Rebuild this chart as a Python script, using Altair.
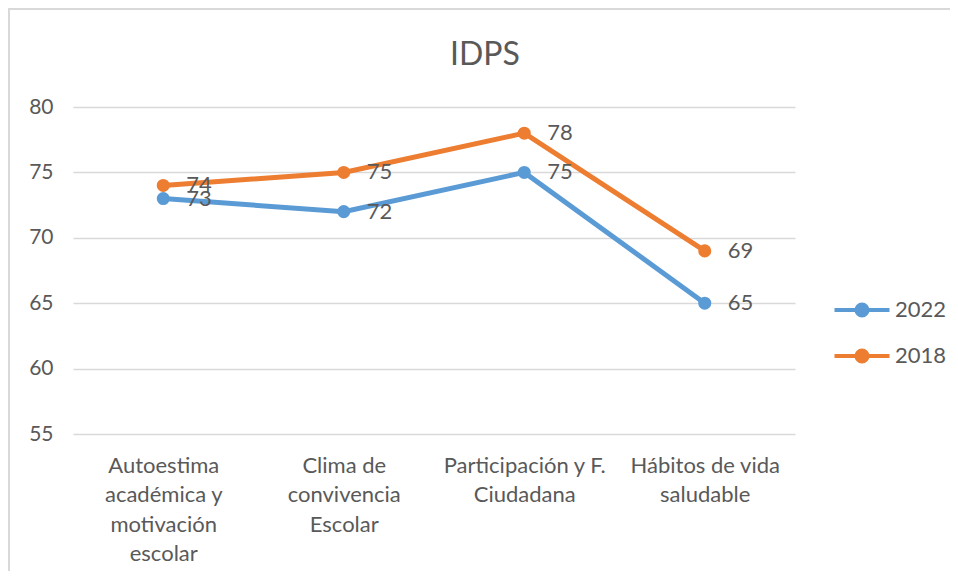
import altair as alt
import pandas as pd

categories = [
    "Autoestima\nacadémica y\nmotivación\nescolar",
    "Clima de\nconvivencia\nEscolar",
    "Participación y F.\nCiudadana",
    "Hábitos de vida\nsaludable",
]
series_names = ["2022", "2018"]
values_2022 = [73, 72, 75, 65]
values_2018 = [74, 75, 78, 69]
y_ticks = [55, 60, 65, 70, 75, 80]
colors = ["#5B9BD5", "#ED7D31"]
title_text = "IDPS"

rows = []
for name, vals in zip(series_names, [values_2022, values_2018]):
    for c, v in zip(categories, vals):
        rows.append({"cat": c, "val": v, "serie": name})
df = pd.DataFrame(rows)

FONT = "Lato"
GREY = "#595959"

legend_path = "M-2,0H2M0.4,0A0.4,0.4,0,1,1,-0.4,0A0.4,0.4,0,1,1,0.4,0Z"

x_enc = alt.X("cat:N", sort=categories, title=None,
              scale=alt.Scale(type="point", padding=0.5),
              axis=alt.Axis(labelExpr="split(datum.label, '\\n')", labelAngle=0,
                            labelFontSize=22, labelColor=GREY, labelFont=FONT,
                            labelLineHeight=29.5, labelPadding=21, ticks=False,
                            domain=False, grid=False, labelBaseline="top"))
y_enc = alt.Y("val:Q", title=None,
              scale=alt.Scale(domain=[55, 80], nice=False, zero=False),
              axis=alt.Axis(values=y_ticks, labelFontSize=21, labelColor=GREY,
                            labelFont=FONT, labelPadding=20, ticks=False,
                            domain=False, gridColor="#D9D9D9", gridWidth=1.5))
color_enc = alt.Color("serie:N", sort=series_names,
                      scale=alt.Scale(domain=series_names, range=colors),
                      legend=alt.Legend(title=None, orient="none", legendX=773,
                                        legendY=187, symbolType=legend_path,
                                        symbolSize=756, symbolStrokeWidth=4,
                                        labelFontSize=22, labelColor=GREY,
                                        labelFont=FONT, labelOffset=17,
                                        rowPadding=16))

border = alt.Chart(df).mark_rect(fill=None, stroke="#D9D9D9", strokeWidth=2).encode(
    x=alt.value(-64), x2=alt.value(1200), y=alt.value(-98), y2=alt.value(1200)
)
title_mark = alt.Chart(pd.DataFrame({"t": [title_text]})).mark_text(
    fontSize=32, font=FONT, color=GREY, align="center", baseline="middle"
).encode(x=alt.value(412), y=alt.value(-52), text="t:N")

base = alt.Chart(df)
lines = base.mark_line(strokeWidth=5).encode(x=x_enc, y=y_enc, color=color_enc,
                                               detail="serie:N")
points = base.mark_point(filled=True, size=170, opacity=1).encode(
    x=x_enc, y=y_enc, color=color_enc)
labels = base.mark_text(align="left", baseline="middle", dx=23, fontSize=22,
                        font=FONT, color=GREY).encode(
    x=x_enc, y=y_enc, text="val:Q")

chart = alt.layer(border, title_mark, lines, points, labels).properties(
    width=722, height=327,
    autosize=alt.AutoSizeParams(type="none"),
    padding={"left": 65, "top": 99, "right": 155, "bottom": 137},
).configure(background="white").configure_view(stroke=None)

chart.save("out.html", embed_options={"renderer": "svg", "actions": False})
